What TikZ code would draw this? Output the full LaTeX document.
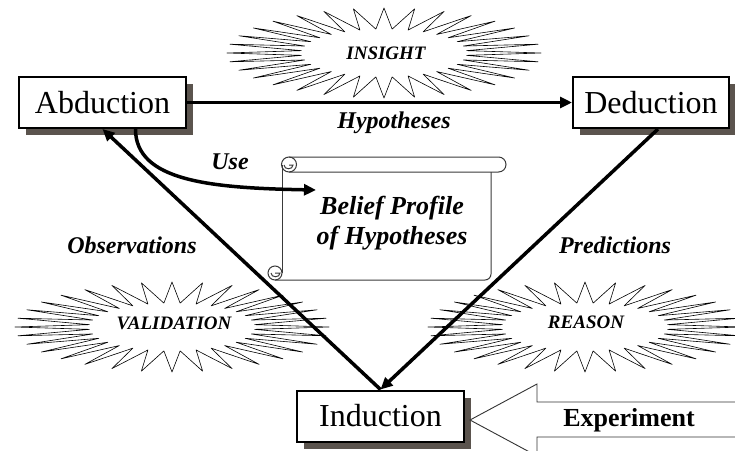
\documentclass[tikz,border=0pt]{standalone}
\usepackage{fontspec}
\setmainfont{Liberation Serif}
\usepackage{xcolor}
\usetikzlibrary{arrows.meta, positioning, shadows, calc}
\definecolor{shadowgray}{HTML}{5B544E}
\definecolor{scrollgray}{HTML}{3A3A3A}

\tikzset{
    seal/.pic={
        \draw[line width=0.6pt, fill=white, line join=round]
            plot[domain=0:360, samples=65, variable=\t]
            ({(120+37*cos(32*\t))*cos(\t)}, {(34.5+10.5*cos(32*\t))*sin(\t)}) -- cycle;
    },
}

\begin{document}
\begin{tikzpicture}[x=1pt, y=-1pt,
    box/.style={draw, line width=2pt, fill=white, minimum width=167pt, minimum height=51pt,
        inner sep=0pt, font=\fontsize{32}{36}\selectfont,
        general shadow={fill=shadowgray, shadow xshift=7pt, shadow yshift=-7pt}},
    arr/.style={line width=3.5pt, -{Triangle[length=12pt, width=11pt]}},
    lbl/.style={font=\fontsize{24}{28}\selectfont\bfseries\itshape},
    bursttext/.style={font=\fontsize{19}{21}\selectfont\bfseries\itshape},
    scrollline/.style={line width=1pt, scrollgray}]
    \useasboundingbox (0,0) rectangle (735,450);
    \clip (0,0) rectangle (735,450);

    % ── BURSTS ────────────────────────────────────────────────────────
    \pic at (384,53) {seal};
    \node[bursttext] (insight) at (386,53) {INSIGHT};
    \pic at (172,327) {seal};
    \node[bursttext] (validation) at (174,323) {VALIDATION};
    \pic at (585,327) {seal};
    \node[bursttext] (reason) at (586,322) {REASON};

    % ── SCROLL ────────────────────────────────────────────────────────
    \draw[scrollline, rounded corners=7.5pt] (289,157) -- (506,157) -- (506,172) -- (289,172);
    \draw[scrollline] (289,164.5) circle[radius=7.5];
    \draw[scrollline] (284,165) .. controls (284,170) and (293,170) .. (293,165) -- (289,165);
    \draw[scrollline] (282,165) -- (282,273);
    \draw[scrollline, rounded corners=6pt] (491,172) -- (491,280) -- (275,280);
    \draw[scrollline] (275,273) circle[radius=7];
    \draw[scrollline] (271,273) .. controls (271,278) and (280,278) .. (280,273) -- (275,273);
    \node[font=\fontsize{26}{30}\selectfont\bfseries\itshape, align=center] (belief) at (392,223)
        {Belief Profile\\of Hypotheses};
    \coordinate (usein) at (316,190);

    % ── BOXES ─────────────────────────────────────────────────────────
    \node[box] (abd) at (102.5,102.5) {Abduction};
    \node[box, minimum width=156pt] (ded) at (651,102.5) {Deduction};
    \node[box] (ind) at (380.5,416) {Induction};

    % ── CONNECTORS ────────────────────────────────────────────────────
    \draw[arr] (abd) -- (ded);
    \draw[arr] ([xshift=33pt]abd.south) .. controls +(0,52) and (210,188) .. (usein);
    \draw[arr] (ind.north) -- (abd.south);
    \draw[arr] ([xshift=7pt]ded.south) -- (ind.north);

    \node[lbl] (hyp) at (394,123) {Hypotheses};
    \node[lbl] (use) at (230,162) {Use};
    \node[lbl] (obs) at (132,245) {Observations};
    \node[lbl] (pred) at (615,245) {Predictions};

    % ── EXPERIMENT ────────────────────────────────────────────────────
    \draw[line width=0.9pt, black!80, fill=white]
        (760,402) -- (537,402) -- (537,384) -- (470,420) -- (537,456) -- (537,437) -- (760,437);
    \node[font=\fontsize{26}{30}\selectfont\bfseries] (exp) at (629,420) {Experiment};
\end{tikzpicture}
\end{document}
